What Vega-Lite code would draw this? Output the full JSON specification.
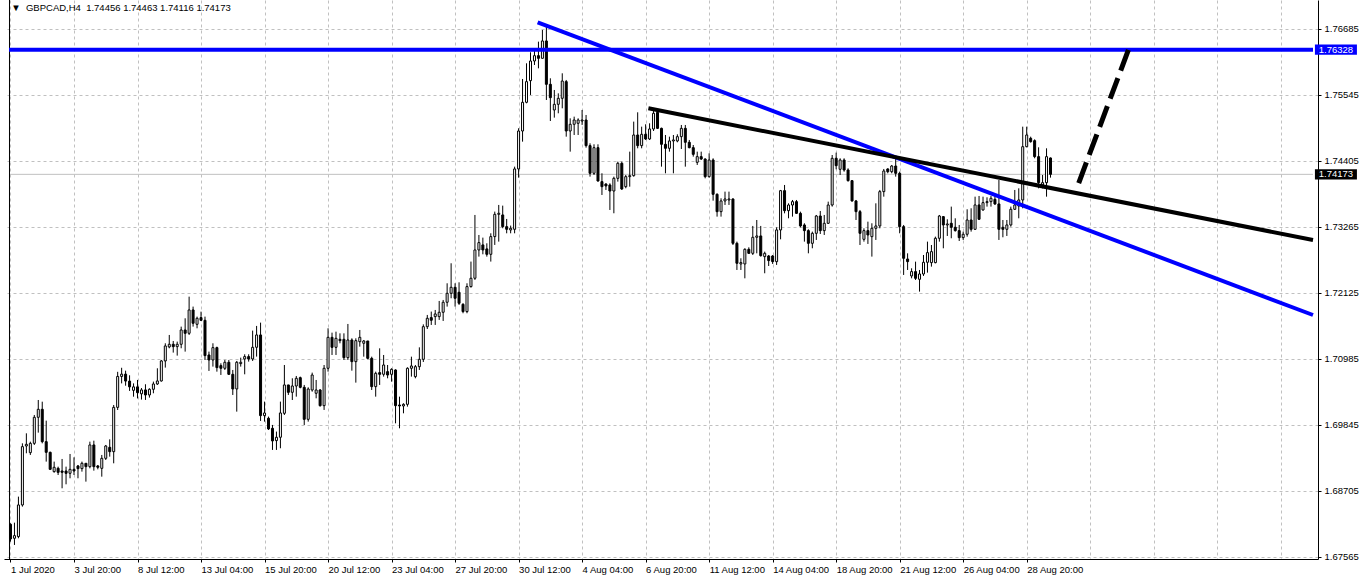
{
  "$schema": "https://vega.github.io/schema/vega-lite/v6.json",
  "width": 1314,
  "height": 559,
  "autosize": "none",
  "padding": {"left": 4, "top": 0, "right": 46, "bottom": 28},
  "background": "white",
  "config": {"view": {"stroke": null}},
  "datasets": {
    "bars": [
      {"i":0,"o":1.68125,"h":1.68142,"l":1.67825,"c":1.67871},
      {"i":1,"o":1.67883,"h":1.68153,"l":1.67768,"c":1.67929},
      {"i":2,"o":1.67912,"h":1.68603,"l":1.67883,"c":1.68459},
      {"i":3,"o":1.68459,"h":1.69524,"l":1.68430,"c":1.69467},
      {"i":4,"o":1.69478,"h":1.69697,"l":1.69352,"c":1.69507},
      {"i":5,"o":1.69363,"h":1.69553,"l":1.69323,"c":1.69524},
      {"i":6,"o":1.69524,"h":1.70014,"l":1.69496,"c":1.69974},
      {"i":7,"o":1.69974,"h":1.70273,"l":1.69709,"c":1.70112},
      {"i":8,"o":1.70112,"h":1.70244,"l":1.69524,"c":1.69553},
      {"i":9,"o":1.69553,"h":1.69916,"l":1.69208,"c":1.69369},
      {"i":10,"o":1.69369,"h":1.69380,"l":1.69064,"c":1.69075},
      {"i":11,"o":1.69035,"h":1.69208,"l":1.69017,"c":1.69110},
      {"i":12,"o":1.69092,"h":1.69121,"l":1.68977,"c":1.69023},
      {"i":13,"o":1.69046,"h":1.69254,"l":1.68747,"c":1.69023},
      {"i":14,"o":1.69046,"h":1.69121,"l":1.68816,"c":1.69006},
      {"i":15,"o":1.69006,"h":1.69340,"l":1.68920,"c":1.69075},
      {"i":16,"o":1.69075,"h":1.69282,"l":1.68977,"c":1.69046},
      {"i":17,"o":1.69133,"h":1.69150,"l":1.68920,"c":1.69087},
      {"i":18,"o":1.69087,"h":1.69208,"l":1.69035,"c":1.69179},
      {"i":19,"o":1.69179,"h":1.69179,"l":1.68862,"c":1.69121},
      {"i":20,"o":1.69121,"h":1.69553,"l":1.69092,"c":1.69496},
      {"i":21,"o":1.69496,"h":1.69570,"l":1.69052,"c":1.69121},
      {"i":22,"o":1.69133,"h":1.69150,"l":1.69075,"c":1.69110},
      {"i":23,"o":1.69092,"h":1.69323,"l":1.68948,"c":1.69265},
      {"i":24,"o":1.69265,"h":1.69496,"l":1.69236,"c":1.69478},
      {"i":25,"o":1.69455,"h":1.69593,"l":1.69294,"c":1.69380},
      {"i":26,"o":1.69380,"h":1.70187,"l":1.69179,"c":1.70146},
      {"i":27,"o":1.70146,"h":1.70760,"l":1.70100,"c":1.70680},
      {"i":28,"o":1.70680,"h":1.70830,"l":1.70560,"c":1.70720},
      {"i":29,"o":1.70720,"h":1.70780,"l":1.70520,"c":1.70600},
      {"i":30,"o":1.70600,"h":1.70700,"l":1.70430,"c":1.70500},
      {"i":31,"o":1.70440,"h":1.70560,"l":1.70330,"c":1.70500},
      {"i":32,"o":1.70500,"h":1.70620,"l":1.70300,"c":1.70400},
      {"i":33,"o":1.70380,"h":1.70480,"l":1.70280,"c":1.70447},
      {"i":34,"o":1.70447,"h":1.70545,"l":1.70274,"c":1.70360},
      {"i":35,"o":1.70360,"h":1.70475,"l":1.70314,"c":1.70458},
      {"i":36,"o":1.70458,"h":1.70591,"l":1.70389,"c":1.70550},
      {"i":37,"o":1.70550,"h":1.70821,"l":1.70533,"c":1.70602},
      {"i":38,"o":1.70602,"h":1.70965,"l":1.70591,"c":1.70948},
      {"i":39,"o":1.70948,"h":1.71253,"l":1.70833,"c":1.71207},
      {"i":40,"o":1.71190,"h":1.71397,"l":1.71167,"c":1.71236},
      {"i":41,"o":1.71236,"h":1.71293,"l":1.71092,"c":1.71195},
      {"i":42,"o":1.71195,"h":1.71282,"l":1.71040,"c":1.71236},
      {"i":43,"o":1.71236,"h":1.71541,"l":1.71167,"c":1.71483},
      {"i":44,"o":1.71483,"h":1.71685,"l":1.71109,"c":1.71426},
      {"i":45,"o":1.71426,"h":1.72059,"l":1.71397,"c":1.71829},
      {"i":46,"o":1.71829,"h":1.71887,"l":1.71541,"c":1.71599},
      {"i":47,"o":1.71581,"h":1.71714,"l":1.71512,"c":1.71685},
      {"i":48,"o":1.71697,"h":1.71800,"l":1.71639,"c":1.71650},
      {"i":49,"o":1.71650,"h":1.71714,"l":1.70965,"c":1.71040},
      {"i":50,"o":1.71051,"h":1.71109,"l":1.70775,"c":1.70965},
      {"i":51,"o":1.70965,"h":1.71253,"l":1.70850,"c":1.71178},
      {"i":52,"o":1.71178,"h":1.71195,"l":1.70763,"c":1.70833},
      {"i":53,"o":1.70867,"h":1.70907,"l":1.70706,"c":1.70821},
      {"i":54,"o":1.70821,"h":1.70965,"l":1.70792,"c":1.70925},
      {"i":55,"o":1.70925,"h":1.70965,"l":1.70706,"c":1.70717},
      {"i":56,"o":1.70717,"h":1.70792,"l":1.70360,"c":1.70464},
      {"i":57,"o":1.70464,"h":1.70948,"l":1.70072,"c":1.70925},
      {"i":58,"o":1.70902,"h":1.71005,"l":1.70850,"c":1.70925},
      {"i":59,"o":1.70982,"h":1.71063,"l":1.70717,"c":1.71023},
      {"i":60,"o":1.71023,"h":1.71063,"l":1.70936,"c":1.70982},
      {"i":61,"o":1.70982,"h":1.71472,"l":1.70948,"c":1.71184},
      {"i":62,"o":1.71184,"h":1.71553,"l":1.71023,"c":1.71397},
      {"i":63,"o":1.71397,"h":1.71610,"l":1.69911,"c":1.70003},
      {"i":64,"o":1.70003,"h":1.70245,"l":1.69899,"c":1.70049},
      {"i":65,"o":1.69957,"h":1.69986,"l":1.69755,"c":1.69773},
      {"i":66,"o":1.69784,"h":1.69842,"l":1.69410,"c":1.69565},
      {"i":67,"o":1.69571,"h":1.69727,"l":1.69410,"c":1.69629},
      {"i":68,"o":1.69629,"h":1.70245,"l":1.69439,"c":1.70049},
      {"i":69,"o":1.70043,"h":1.70878,"l":1.70014,"c":1.70533},
      {"i":70,"o":1.70533,"h":1.70533,"l":1.70360,"c":1.70406},
      {"i":71,"o":1.70406,"h":1.70648,"l":1.70273,"c":1.70515},
      {"i":72,"o":1.70515,"h":1.70688,"l":1.70331,"c":1.70648},
      {"i":73,"o":1.70659,"h":1.70677,"l":1.70475,"c":1.70492},
      {"i":74,"o":1.70492,"h":1.70533,"l":1.69841,"c":1.69939},
      {"i":75,"o":1.69939,"h":1.70492,"l":1.69899,"c":1.70463},
      {"i":76,"o":1.70446,"h":1.70746,"l":1.70417,"c":1.70705},
      {"i":77,"o":1.70389,"h":1.70619,"l":1.70302,"c":1.70446},
      {"i":78,"o":1.70446,"h":1.70463,"l":1.70158,"c":1.70175},
      {"i":79,"o":1.70175,"h":1.70878,"l":1.70101,"c":1.70821},
      {"i":80,"o":1.70821,"h":1.71512,"l":1.70763,"c":1.71356},
      {"i":81,"o":1.71356,"h":1.71437,"l":1.71051,"c":1.71183},
      {"i":82,"o":1.71183,"h":1.71454,"l":1.71051,"c":1.71339},
      {"i":83,"o":1.71322,"h":1.71425,"l":1.71253,"c":1.71299},
      {"i":84,"o":1.71322,"h":1.71425,"l":1.70965,"c":1.71005},
      {"i":85,"o":1.71005,"h":1.71587,"l":1.70965,"c":1.71310},
      {"i":86,"o":1.71310,"h":1.71339,"l":1.70780,"c":1.70936},
      {"i":87,"o":1.70936,"h":1.71339,"l":1.70573,"c":1.71299},
      {"i":88,"o":1.71281,"h":1.71483,"l":1.71195,"c":1.71356},
      {"i":89,"o":1.71253,"h":1.71310,"l":1.71022,"c":1.71293},
      {"i":90,"o":1.71293,"h":1.71293,"l":1.70976,"c":1.70993},
      {"i":91,"o":1.70993,"h":1.71022,"l":1.70446,"c":1.70504},
      {"i":92,"o":1.70504,"h":1.70763,"l":1.70331,"c":1.70734},
      {"i":93,"o":1.70746,"h":1.71166,"l":1.70533,"c":1.70717},
      {"i":94,"o":1.70717,"h":1.71051,"l":1.70677,"c":1.70878},
      {"i":95,"o":1.70763,"h":1.70878,"l":1.70648,"c":1.70705},
      {"i":96,"o":1.70717,"h":1.70821,"l":1.70590,"c":1.70803},
      {"i":97,"o":1.70792,"h":1.70803,"l":1.69870,"c":1.70175},
      {"i":98,"o":1.70187,"h":1.70331,"l":1.69784,"c":1.70170},
      {"i":99,"o":1.70170,"h":1.70216,"l":1.70043,"c":1.70198},
      {"i":100,"o":1.70198,"h":1.70838,"l":1.70158,"c":1.70821},
      {"i":101,"o":1.70821,"h":1.71022,"l":1.70677,"c":1.70861},
      {"i":102,"o":1.70677,"h":1.70878,"l":1.70648,"c":1.70849},
      {"i":103,"o":1.70849,"h":1.71183,"l":1.70792,"c":1.70976},
      {"i":104,"o":1.70976,"h":1.71580,"l":1.70930,"c":1.71540},
      {"i":105,"o":1.71540,"h":1.71743,"l":1.71500,"c":1.71685},
      {"i":106,"o":1.71697,"h":1.71801,"l":1.71570,"c":1.71651},
      {"i":107,"o":1.71714,"h":1.71829,"l":1.71570,"c":1.71760},
      {"i":108,"o":1.71714,"h":1.71985,"l":1.71657,"c":1.71789},
      {"i":109,"o":1.71789,"h":1.72002,"l":1.71639,"c":1.71962},
      {"i":110,"o":1.71962,"h":1.72290,"l":1.71887,"c":1.72117},
      {"i":111,"o":1.72117,"h":1.72636,"l":1.72031,"c":1.72221},
      {"i":112,"o":1.72221,"h":1.72290,"l":1.71887,"c":1.72031},
      {"i":113,"o":1.72135,"h":1.72307,"l":1.71916,"c":1.71945},
      {"i":114,"o":1.71927,"h":1.71945,"l":1.71772,"c":1.71801},
      {"i":115,"o":1.71801,"h":1.72290,"l":1.71772,"c":1.72233},
      {"i":116,"o":1.72233,"h":1.72665,"l":1.72215,"c":1.72377},
      {"i":117,"o":1.72377,"h":1.73471,"l":1.72348,"c":1.72866},
      {"i":118,"o":1.72866,"h":1.73125,"l":1.72751,"c":1.72993},
      {"i":119,"o":1.72953,"h":1.73079,"l":1.72791,"c":1.72866},
      {"i":120,"o":1.72884,"h":1.72981,"l":1.72751,"c":1.72791},
      {"i":121,"o":1.72791,"h":1.73154,"l":1.72665,"c":1.73097},
      {"i":122,"o":1.73097,"h":1.73529,"l":1.72953,"c":1.73482},
      {"i":123,"o":1.73482,"h":1.73644,"l":1.73010,"c":1.73500},
      {"i":124,"o":1.73471,"h":1.73632,"l":1.73241,"c":1.73269},
      {"i":125,"o":1.73269,"h":1.73402,"l":1.73154,"c":1.73223},
      {"i":126,"o":1.73212,"h":1.73287,"l":1.73154,"c":1.73241},
      {"i":127,"o":1.73223,"h":1.74306,"l":1.73154,"c":1.74266},
      {"i":128,"o":1.74266,"h":1.74969,"l":1.74116,"c":1.74922},
      {"i":129,"o":1.74922,"h":1.75821,"l":1.74738,"c":1.75418},
      {"i":130,"o":1.75418,"h":1.76092,"l":1.75401,"c":1.75775},
      {"i":131,"o":1.75792,"h":1.76282,"l":1.75545,"c":1.76132},
      {"i":132,"o":1.76132,"h":1.76322,"l":1.76063,"c":1.76224},
      {"i":133,"o":1.76224,"h":1.76466,"l":1.76005,"c":1.76178},
      {"i":134,"o":1.76178,"h":1.76668,"l":1.76178,"c":1.76478},
      {"i":135,"o":1.76478,"h":1.76754,"l":1.75458,"c":1.75729},
      {"i":136,"o":1.75729,"h":1.75833,"l":1.75095,"c":1.75498},
      {"i":137,"o":1.75285,"h":1.75631,"l":1.75153,"c":1.75383},
      {"i":138,"o":1.75383,"h":1.75573,"l":1.75228,"c":1.75487},
      {"i":139,"o":1.75487,"h":1.75919,"l":1.75314,"c":1.75786},
      {"i":140,"o":1.75775,"h":1.75804,"l":1.74824,"c":1.74922},
      {"i":141,"o":1.74922,"h":1.75141,"l":1.74565,"c":1.75038},
      {"i":142,"o":1.75038,"h":1.75170,"l":1.74853,"c":1.75112},
      {"i":143,"o":1.75055,"h":1.75141,"l":1.74853,"c":1.75112},
      {"i":144,"o":1.75095,"h":1.75285,"l":1.75027,"c":1.75112},
      {"i":145,"o":1.75112,"h":1.75199,"l":1.74634,"c":1.74669},
      {"i":146,"o":1.74669,"h":1.74709,"l":1.74133,"c":1.74191},
      {"i":147,"o":1.74191,"h":1.74692,"l":1.74162,"c":1.74634},
      {"i":148,"o":1.74634,"h":1.74692,"l":1.74047,"c":1.74058},
      {"i":149,"o":1.74047,"h":1.74191,"l":1.73816,"c":1.73960},
      {"i":150,"o":1.74006,"h":1.74018,"l":1.73903,"c":1.73972},
      {"i":151,"o":1.73989,"h":1.74018,"l":1.73557,"c":1.73885},
      {"i":152,"o":1.73885,"h":1.74133,"l":1.73500,"c":1.74104},
      {"i":153,"o":1.74104,"h":1.74392,"l":1.74047,"c":1.74364},
      {"i":154,"o":1.74364,"h":1.74392,"l":1.73903,"c":1.73920},
      {"i":155,"o":1.73960,"h":1.74162,"l":1.73932,"c":1.74133},
      {"i":156,"o":1.74133,"h":1.74565,"l":1.73960,"c":1.74150},
      {"i":157,"o":1.74150,"h":1.75084,"l":1.74133,"c":1.74853},
      {"i":158,"o":1.74853,"h":1.75245,"l":1.74623,"c":1.74669},
      {"i":159,"o":1.74669,"h":1.74997,"l":1.74623,"c":1.74865},
      {"i":160,"o":1.74865,"h":1.75038,"l":1.74767,"c":1.74784},
      {"i":161,"o":1.74784,"h":1.75055,"l":1.74767,"c":1.74957},
      {"i":162,"o":1.74957,"h":1.75285,"l":1.74922,"c":1.75228},
      {"i":163,"o":1.75245,"h":1.75285,"l":1.74957,"c":1.74968},
      {"i":164,"o":1.74968,"h":1.74980,"l":1.74306,"c":1.74692},
      {"i":165,"o":1.74692,"h":1.74853,"l":1.74191,"c":1.74623},
      {"i":166,"o":1.74623,"h":1.74824,"l":1.74565,"c":1.74750},
      {"i":167,"o":1.74750,"h":1.74853,"l":1.74191,"c":1.74767},
      {"i":168,"o":1.74750,"h":1.74865,"l":1.74727,"c":1.74824},
      {"i":169,"o":1.74824,"h":1.75026,"l":1.74611,"c":1.74968},
      {"i":170,"o":1.74968,"h":1.75026,"l":1.74306,"c":1.74727},
      {"i":171,"o":1.74727,"h":1.74767,"l":1.74623,"c":1.74634},
      {"i":172,"o":1.74634,"h":1.74680,"l":1.74479,"c":1.74519},
      {"i":173,"o":1.74381,"h":1.74565,"l":1.74335,"c":1.74479},
      {"i":174,"o":1.74479,"h":1.74565,"l":1.74421,"c":1.74438},
      {"i":175,"o":1.74438,"h":1.74450,"l":1.74104,"c":1.74133},
      {"i":176,"o":1.74133,"h":1.74536,"l":1.74116,"c":1.74421},
      {"i":177,"o":1.74421,"h":1.74450,"l":1.73718,"c":1.73828},
      {"i":178,"o":1.73828,"h":1.73845,"l":1.73442,"c":1.73528},
      {"i":179,"o":1.73528,"h":1.73759,"l":1.73442,"c":1.73713},
      {"i":180,"o":1.73713,"h":1.73874,"l":1.73644,"c":1.73747},
      {"i":181,"o":1.73730,"h":1.73874,"l":1.73644,"c":1.73747},
      {"i":182,"o":1.73747,"h":1.73759,"l":1.72952,"c":1.72981},
      {"i":183,"o":1.72981,"h":1.73010,"l":1.72520,"c":1.72636},
      {"i":184,"o":1.72624,"h":1.72722,"l":1.72520,"c":1.72647},
      {"i":185,"o":1.72624,"h":1.72895,"l":1.72376,"c":1.72877},
      {"i":186,"o":1.72877,"h":1.72912,"l":1.72797,"c":1.72808},
      {"i":187,"o":1.72808,"h":1.73281,"l":1.72779,"c":1.73085},
      {"i":188,"o":1.73085,"h":1.73384,"l":1.72808,"c":1.73108},
      {"i":189,"o":1.73108,"h":1.73281,"l":1.72751,"c":1.72768},
      {"i":190,"o":1.72751,"h":1.72837,"l":1.72463,"c":1.72808},
      {"i":191,"o":1.72762,"h":1.72779,"l":1.72589,"c":1.72682},
      {"i":192,"o":1.72762,"h":1.72779,"l":1.72624,"c":1.72664},
      {"i":193,"o":1.72664,"h":1.73257,"l":1.72607,"c":1.73212},
      {"i":194,"o":1.73212,"h":1.73903,"l":1.73050,"c":1.73891},
      {"i":195,"o":1.73891,"h":1.73989,"l":1.73499,"c":1.73545},
      {"i":196,"o":1.73545,"h":1.73672,"l":1.73413,"c":1.73643},
      {"i":197,"o":1.73643,"h":1.73730,"l":1.73442,"c":1.73701},
      {"i":198,"o":1.73701,"h":1.73730,"l":1.73488,"c":1.73499},
      {"i":199,"o":1.73499,"h":1.73528,"l":1.73257,"c":1.73281},
      {"i":200,"o":1.73298,"h":1.73327,"l":1.73010,"c":1.73200},
      {"i":201,"o":1.73200,"h":1.73223,"l":1.72808,"c":1.72981},
      {"i":202,"o":1.72981,"h":1.73183,"l":1.72895,"c":1.73154},
      {"i":203,"o":1.73154,"h":1.73471,"l":1.73039,"c":1.73453},
      {"i":204,"o":1.73453,"h":1.73540,"l":1.73142,"c":1.73200},
      {"i":205,"o":1.73200,"h":1.73471,"l":1.73125,"c":1.73327},
      {"i":206,"o":1.73327,"h":1.73701,"l":1.73315,"c":1.73643},
      {"i":207,"o":1.73643,"h":1.74507,"l":1.73615,"c":1.74450},
      {"i":208,"o":1.74450,"h":1.74548,"l":1.74260,"c":1.74323},
      {"i":209,"o":1.74260,"h":1.74450,"l":1.74162,"c":1.74421},
      {"i":210,"o":1.74421,"h":1.74450,"l":1.74219,"c":1.74248},
      {"i":211,"o":1.74248,"h":1.74277,"l":1.74047,"c":1.74064},
      {"i":212,"o":1.74064,"h":1.74075,"l":1.73701,"c":1.73713},
      {"i":213,"o":1.73713,"h":1.73730,"l":1.73384,"c":1.73528},
      {"i":214,"o":1.73528,"h":1.73557,"l":1.72952,"c":1.73154},
      {"i":215,"o":1.73050,"h":1.73240,"l":1.73010,"c":1.73200},
      {"i":216,"o":1.73200,"h":1.73355,"l":1.72970,"c":1.73125},
      {"i":217,"o":1.73096,"h":1.73327,"l":1.72751,"c":1.73240},
      {"i":218,"o":1.73240,"h":1.73672,"l":1.73039,"c":1.73281},
      {"i":219,"o":1.73281,"h":1.73903,"l":1.73240,"c":1.73874},
      {"i":220,"o":1.73874,"h":1.74266,"l":1.73787,"c":1.74231},
      {"i":221,"o":1.74266,"h":1.74277,"l":1.74191,"c":1.74219},
      {"i":222,"o":1.74219,"h":1.74335,"l":1.74191,"c":1.74317},
      {"i":223,"o":1.74317,"h":1.74450,"l":1.74133,"c":1.74191},
      {"i":224,"o":1.74191,"h":1.74220,"l":1.73154,"c":1.73269},
      {"i":225,"o":1.73269,"h":1.73298,"l":1.72434,"c":1.72722},
      {"i":226,"o":1.72710,"h":1.72808,"l":1.72520,"c":1.72664},
      {"i":227,"o":1.72417,"h":1.72549,"l":1.72376,"c":1.72492},
      {"i":228,"o":1.72492,"h":1.72664,"l":1.72347,"c":1.72376},
      {"i":229,"o":1.72359,"h":1.72520,"l":1.72146,"c":1.72451},
      {"i":230,"o":1.72451,"h":1.72779,"l":1.72417,"c":1.72653},
      {"i":231,"o":1.72653,"h":1.73010,"l":1.72474,"c":1.72820},
      {"i":232,"o":1.72647,"h":1.72952,"l":1.72578,"c":1.72837},
      {"i":233,"o":1.72647,"h":1.73096,"l":1.72635,"c":1.73068},
      {"i":234,"o":1.73068,"h":1.73471,"l":1.73010,"c":1.73453},
      {"i":235,"o":1.73442,"h":1.73453,"l":1.72895,"c":1.73298},
      {"i":236,"o":1.73298,"h":1.73396,"l":1.73108,"c":1.73315},
      {"i":237,"o":1.73327,"h":1.73615,"l":1.73068,"c":1.73258},
      {"i":238,"o":1.73258,"h":1.73413,"l":1.73183,"c":1.73200},
      {"i":239,"o":1.73200,"h":1.73298,"l":1.73021,"c":1.73079},
      {"i":240,"o":1.73079,"h":1.73183,"l":1.73039,"c":1.73137},
      {"i":241,"o":1.73137,"h":1.73569,"l":1.73096,"c":1.73384},
      {"i":242,"o":1.73384,"h":1.73586,"l":1.73183,"c":1.73223},
      {"i":243,"o":1.73223,"h":1.73787,"l":1.73211,"c":1.73644},
      {"i":244,"o":1.73644,"h":1.73799,"l":1.73384,"c":1.73396},
      {"i":245,"o":1.73557,"h":1.73787,"l":1.73546,"c":1.73684},
      {"i":246,"o":1.73684,"h":1.73776,"l":1.73615,"c":1.73701},
      {"i":247,"o":1.73701,"h":1.73799,"l":1.73615,"c":1.73759},
      {"i":248,"o":1.73741,"h":1.73816,"l":1.73644,"c":1.73661},
      {"i":249,"o":1.73661,"h":1.74075,"l":1.73039,"c":1.73223},
      {"i":250,"o":1.73258,"h":1.73384,"l":1.73085,"c":1.73223},
      {"i":251,"o":1.73223,"h":1.73384,"l":1.73108,"c":1.73298},
      {"i":252,"o":1.73298,"h":1.73615,"l":1.73269,"c":1.73569},
      {"i":253,"o":1.73569,"h":1.73903,"l":1.73557,"c":1.73644},
      {"i":254,"o":1.73626,"h":1.73931,"l":1.73413,"c":1.73730},
      {"i":255,"o":1.73730,"h":1.74997,"l":1.73586,"c":1.74651},
      {"i":256,"o":1.74651,"h":1.74997,"l":1.74640,"c":1.74853},
      {"i":257,"o":1.74796,"h":1.74824,"l":1.74721,"c":1.74738},
      {"i":258,"o":1.74755,"h":1.74778,"l":1.74450,"c":1.74479},
      {"i":259,"o":1.74479,"h":1.74640,"l":1.73931,"c":1.74029},
      {"i":260,"o":1.73989,"h":1.74162,"l":1.73931,"c":1.74029},
      {"i":261,"o":1.74029,"h":1.74623,"l":1.73787,"c":1.74479},
      {"i":262,"o":1.74456,"h":1.74463,"l":1.74116,"c":1.74173}
    ],
    "labels": [
      {"k": "res", "p": 1.76328},
      {"k": "bid", "p": 1.74173}
    ]
  },
  "layer": [
    {
      "data": {"values": [{}]},
      "mark": {"type": "rule", "color": "#c0c0c0", "strokeWidth": 1},
      "encoding": {
        "x": {"datum": -0.375, "type": "quantitative"},
        "x2": {"datum": 328.125},
        "y": {"datum": 1.74173, "type": "quantitative", "scale": {"domain": [1.67525, 1.77186], "nice": false, "zero": false},
          "axis": {"orient": "right", "values": [1.67565,1.68135,1.68705,1.69275,1.69845,1.70415,1.70985,1.71555,1.72125,1.72695,1.73265,1.73835,1.74405,1.74975,1.75545,1.76115,1.76685], "format": ".5f", "title": null, "grid": true, "gridColor": "#c0c0c0", "gridDash": [3, 3], "gridWidth": 1, "domainColor": "black", "domainWidth": 1, "tickColor": "black", "tickSize": 3, "labelPadding": 3, "labelFont": "Liberation Sans", "labelFontSize": 9.5, "labelColor": "black", "labelOverlap": false, "labelBound": false, "labelFlush": false}}
      }
    },
    {
      "data": {"name": "bars"},
      "mark": {"type": "rule", "color": "black", "strokeWidth": 1},
      "encoding": {
        "x": {"field": "i", "type": "quantitative", "scale": {"domain": [-0.375, 328.125], "nice": false, "zero": false},
          "axis": {"values": [0,8,16,24,32,40,48,56,64,72,80,88,96,104,112,120,128,136,144,152,160,168,176,184,192,200,208,216,224,232,240,248,256,264,272,280,288,296,304,312,320],
            "labelExpr": "(datum.value % 16 == 0 && datum.value <= 256) ? ['1 Jul 2020','3 Jul 20:00','8 Jul 12:00','13 Jul 04:00','15 Jul 20:00','20 Jul 12:00','23 Jul 04:00','27 Jul 20:00','30 Jul 12:00','4 Aug 04:00','6 Aug 20:00','11 Aug 12:00','14 Aug 04:00','18 Aug 20:00','21 Aug 12:00','26 Aug 04:00','28 Aug 20:00'][datum.value / 16] : ''",
            "tickOpacity": {"condition": {"test": "datum.value % 16 == 0 && datum.value <= 256", "value": 1}, "value": 0},
            "title": null, "grid": true, "gridColor": "#c0c0c0", "gridDash": [3, 3], "gridWidth": 1, "domainColor": "black", "domainWidth": 1, "tickColor": "black", "tickSize": 3, "labelAlign": "left", "labelBaseline": "top", "labelPadding": 2, "labelFont": "Liberation Sans", "labelFontSize": 9.5, "labelColor": "black", "labelOverlap": false, "labelBound": false, "labelFlush": false}},
        "y": {"field": "l", "type": "quantitative"},
        "y2": {"field": "h"}
      }
    },
    {
      "data": {"name": "bars"},
      "mark": {"type": "bar", "orient": "vertical", "width": 2, "stroke": "black", "strokeWidth": 1},
      "encoding": {
        "x": {"field": "i", "type": "quantitative"},
        "y": {"field": "o", "type": "quantitative"},
        "y2": {"field": "c"},
        "fill": {"condition": {"test": "datum.c >= datum.o", "value": "white"}, "value": "black"}
      }
    },
    {
      "data": {"values": [{}]},
      "mark": {"type": "rule", "color": "black", "strokeWidth": 1},
      "encoding": {
        "x": {"datum": -0.25, "type": "quantitative"},
        "y": {"datum": 1.67525, "type": "quantitative"},
        "y2": {"datum": 1.77186}
      }
    },
    {
      "data": {"values": [{"i": 132.8, "p": 1.76801}, {"i": 328.125, "p": 1.71742}]},
      "mark": {"type": "line", "color": "#0000ff", "strokeWidth": 4, "clip": true},
      "encoding": {"x": {"field": "i", "type": "quantitative"}, "y": {"field": "p", "type": "quantitative"}}
    },
    {
      "data": {"values": [{"i": 160.7, "p": 1.75314}, {"i": 328.125, "p": 1.73038}]},
      "mark": {"type": "line", "color": "black", "strokeWidth": 4, "clip": true},
      "encoding": {"x": {"field": "i", "type": "quantitative"}, "y": {"field": "p", "type": "quantitative"}}
    },
    {
      "data": {"values": [{}]},
      "mark": {"type": "rule", "color": "#0000ff", "strokeWidth": 4},
      "encoding": {
        "x": {"datum": -0.375, "type": "quantitative"},
        "x2": {"datum": 328.125},
        "y": {"datum": 1.76328, "type": "quantitative"}
      }
    },
    {
      "data": {"values": [{"i": 269.1, "p": 1.74023}, {"i": 281.9, "p": 1.76374}]},
      "mark": {"type": "line", "color": "black", "strokeWidth": 5, "strokeDash": [22, 8], "clip": true},
      "encoding": {"x": {"field": "i", "type": "quantitative"}, "y": {"field": "p", "type": "quantitative"}}
    },
    {
      "data": {"name": "labels"},
      "mark": {"type": "point", "shape": "M-1,-0.24L1,-0.24L1,0.24L-1,0.24Z", "size": 1764, "filled": true, "opacity": 1, "strokeWidth": 0},
      "encoding": {
        "x": {"datum": 333.9, "type": "quantitative"},
        "y": {"field": "p", "type": "quantitative"},
        "color": {"field": "k", "type": "nominal", "scale": {"domain": ["res", "bid"], "range": ["#0000ff", "#000000"]}, "legend": null}
      }
    },
    {
      "data": {"name": "labels"},
      "mark": {"type": "text", "color": "white", "font": "Liberation Sans", "fontSize": 9.5, "align": "center", "baseline": "middle"},
      "encoding": {
        "x": {"datum": 333.9, "type": "quantitative"},
        "y": {"field": "p", "type": "quantitative"},
        "text": {"field": "p", "type": "quantitative", "format": ".5f"}
      }
    },
    {
      "data": {"values": [{"t": "▼\u00a0\u00a0GBPCAD,H4\u00a0\u00a01.74456 1.74463 1.74116 1.74173"}]},
      "mark": {"type": "text", "color": "black", "font": "Liberation Sans", "fontSize": 9.5, "align": "left", "baseline": "top"},
      "encoding": {
        "x": {"datum": 0.2, "type": "quantitative"},
        "y": {"datum": 1.77135, "type": "quantitative"},
        "text": {"field": "t", "type": "nominal"}
      }
    }
  ]
}
